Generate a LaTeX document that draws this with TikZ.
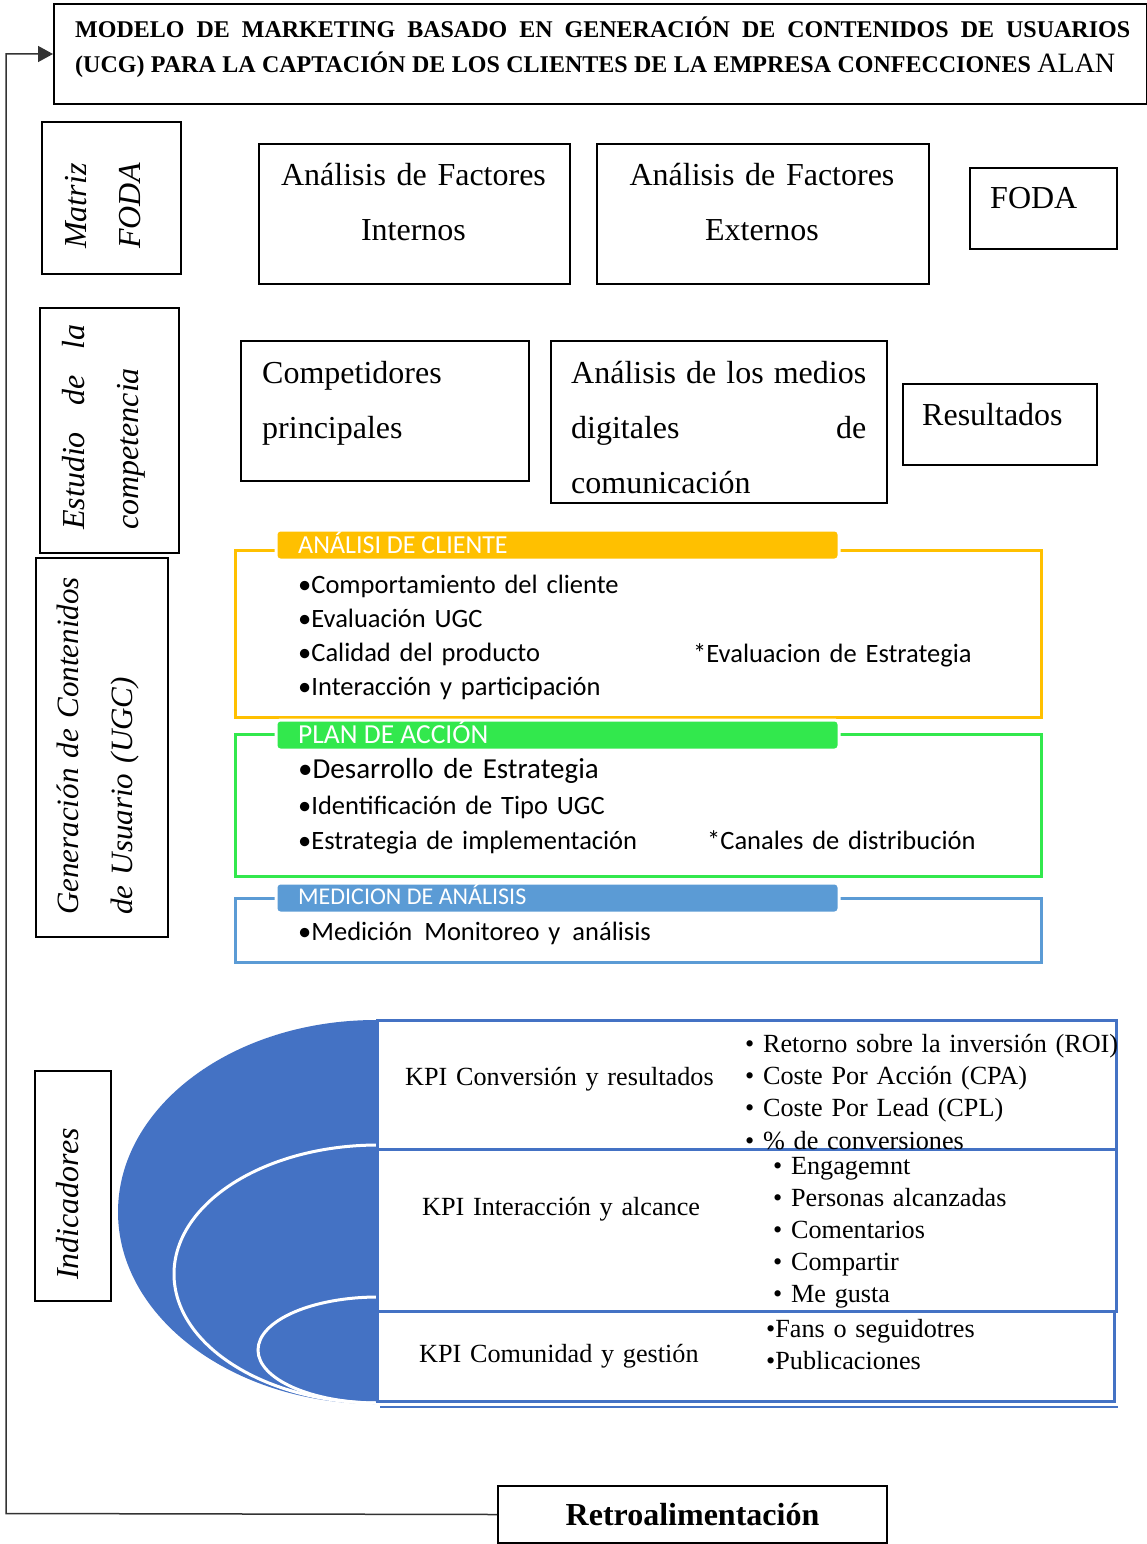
\documentclass[tikz,border=0pt]{standalone}
\usepackage{fontspec}
\setmainfont{Liberation Serif}
\newfontfamily\calibri{Carlito}
\usetikzlibrary{positioning,arrows.meta}

\definecolor{ucgyellow}{RGB}{255,192,0}
\definecolor{ucggreen}{RGB}{50,232,77}
\definecolor{ucgblue}{RGB}{91,155,213}
\definecolor{kpiblue}{RGB}{68,114,196}
\newcommand\fsz[2]{\fontsize{#1pt}{#2pt}\selectfont}

\begin{document}
\begin{tikzpicture}[x=1pt, y=-1pt, inner sep=0pt,
  plainbox/.style={draw, line width=2pt, anchor=north west},
  boxtext/.style={font=\fsz{32}{55}, anchor=base west},
  sidetext/.style={font=\fsz{32}{54}\itshape, rotate=90, anchor=base west},
  secframe/.style={draw=#1, line width=2.5pt, anchor=north west, minimum width=806pt},
  sectab/.style={fill=#1, draw=white, line width=3pt, rounded corners=4pt, anchor=north west, minimum width=563pt, minimum height=30pt},
  tabtext/.style={font=\calibri\fsz{26}{26}, text=white, anchor=base west},
  secitem/.style={font=\calibri\fsz{26.5}{34.3}, anchor=base west, align=left, text width=600pt},
  kpibox/.style={draw=kpiblue, fill=white, line width=3pt, anchor=north west},
  kpitext/.style={font=\fsz{26.2}{32.4}, anchor=base west, align=left, text width=420pt},
  fbline/.style={draw=black!80, line width=1.5pt}]
  \useasboundingbox (0,0) rectangle (1147,1544);

  % title
  \node[plainbox, minimum width=1093pt, minimum height=100pt] (titlebox) at (53,3) {};
  \node[anchor=base west, font=\fsz{24}{35}\bfseries] (titleA) at (75,38)
    {\makebox[1055pt][s]{MODELO DE MARKETING BASADO EN GENERACIÓN DE CONTENIDOS DE USUARIOS}};
  \node[anchor=base west, font=\fsz{24}{35}\bfseries] (titleB) at (75,73)
    {\makebox[1040pt][s]{(UCG) PARA LA CAPTACIÓN DE LOS CLIENTES DE LA EMPRESA CONFECCIONES {\mdseries\fsz{28}{28}ALAN}}};

  % side labels
  \node[plainbox, minimum width=139pt, minimum height=152pt] (matriz) at (41,121) {};
  \node[sidetext, anchor=base, text width=150pt, align=center] (matrizT) at (86,206) {Matriz\\FODA};
  \node[plainbox, minimum width=139pt, minimum height=245pt] (estudio) at (39,307) {};
  \node[sidetext, text width=205pt, align=left] (estudioT) at (84,530)
    {\makebox[205pt][l]{Estudio\hfill de\hfill la}\\competencia};
  \node[plainbox, minimum width=132pt, minimum height=379pt] (ugc) at (35,557) {};
  \node[sidetext, font=\fsz{31}{54}\itshape, text width=400pt, align=left] (ugcT) at (78,915)
    {Generación de Contenidos\\de Usuario (UGC)};
  \node[plainbox, minimum width=76pt, minimum height=230pt] (indic) at (34,1070) {};
  \node[sidetext, anchor=base] (indicT) at (78,1204) {Indicadores};

  % FODA row
  \node[plainbox, minimum width=311pt, minimum height=140pt] (internos) at (258,143) {};
  \node[boxtext, anchor=base, text width=311pt, align=center] (internosT) at (413.5,185)
    {Análisis de Factores\\Internos};
  \node[plainbox, minimum width=332pt, minimum height=140pt] (externos) at (596,143) {};
  \node[boxtext, anchor=base, text width=332pt, align=center] (externosT) at (762,185)
    {Análisis de Factores\\Externos};
  \node[plainbox, minimum width=147pt, minimum height=81pt] (fodabox) at (969,167) {};
  \node[boxtext] (fodaT) at (990,208) {FODA};

  % competencia row
  \node[plainbox, minimum width=288pt, minimum height=140pt] (compet) at (240,340) {};
  \node[boxtext, text width=260pt, align=left] (competT) at (262,383) {Competidores\\principales};
  \node[plainbox, minimum width=336pt, minimum height=162pt] (medios) at (550,340) {};
  \node[boxtext, text width=295pt, align=left] (mediosT) at (571,383)
    {\makebox[295pt][l]{Análisis\hfill de\hfill los\hfill medios}\\\makebox[295pt][l]{digitales\hfill de}\\comunicación};
  \node[plainbox, minimum width=194pt, minimum height=81pt] (result) at (902,383) {};
  \node[boxtext] (resultT) at (922,425) {Resultados};

  % UGC sections
  \node[secframe=ucgyellow, minimum height=167pt] (cliente) at (234,549) {};
  \node[sectab=ucgyellow] (clienteTab) at (274.5,528.5) {};
  \node[tabtext] (clienteTit) at (298,553) {ANÁLISI DE CLIENTE};
  \node[secitem] (clienteL) at (298,593)
    {•Comportamiento del cliente\\•Evaluación UGC\\•Calidad del producto\\•Interacción y participación};
  \node[secitem, text width=350pt] (clienteE) at (693,662) {*Evaluacion de Estrategia};

  \node[secframe=ucggreen, minimum height=142pt] (plan) at (234,733) {};
  \node[sectab=ucggreen] (planTab) at (274.5,718.5) {};
  \node[tabtext, font=\calibri\fsz{27.5}{28}] (planTit) at (298,743) {PLAN DE ACCIÓN};
  \node[secitem, font=\calibri\fsz{29}{35}] (planA) at (298,778) {•Desarrollo de Estrategia};
  \node[secitem, font=\calibri\fsz{26.5}{35}] (planL) at (298,814)
    {•Identificación de Tipo UGC\\•Estrategia de implementación};
  \node[secitem, text width=350pt] (planE) at (707,849) {*Canales de distribución};

  \node[secframe=ucgblue, minimum height=64pt] (medic) at (234,897) {};
  \node[sectab=ucgblue] (medicTab) at (274.5,881.5) {};
  \node[tabtext, font=\calibri\fsz{24}{24}] (medicTit) at (298,904) {MEDICION DE ANÁLISIS};
  \node[secitem] (medicL) at (298,940) {•Medición\hspace{12pt}Monitoreo y\hspace{12pt}análisis};

  % KPI
  \fill[kpiblue] (376,1020) arc[start angle=270, end angle=90, x radius=258, y radius=192] -- cycle;
  \draw[white, line width=3pt] (378,1145) arc[start angle=270, end angle=90, x radius=204, y radius=129];
  \draw[white, line width=3pt] (378,1297) arc[start angle=270, end angle=90, x radius=120, y radius=53];
  \node[kpibox, minimum width=739pt, minimum height=129pt] (kpiA) at (376,1019) {};
  \node[kpibox, minimum width=739pt, minimum height=162pt] (kpiB) at (376,1148) {};
  \node[kpibox, minimum width=737pt, minimum height=90pt] (kpiC) at (376,1310) {};
  \draw[kpiblue, line width=1.5pt] ([shift={(4,4)}]kpiC.south west) -- ([shift={(2,4)}]kpiC.south east);

  \node[kpitext] (kpiAT) at (405,1085) {KPI Conversión y resultados};
  \node[kpitext] (kpiAL) at (745,1052)
    {• Retorno sobre la inversión (ROI)\\• Coste Por Acción (CPA)\\• Coste Por Lead (CPL)\\• \% de conversiones};
  \node[kpitext] (kpiBT) at (422,1215) {KPI Interacción y alcance};
  \node[kpitext, font=\fsz{26.2}{32}] (kpiBL) at (773,1174)
    {• Engagemnt\\• Personas alcanzadas\\• Comentarios\\• Compartir\\• Me gusta};
  \node[kpitext] (kpiCT) at (419,1362) {KPI Comunidad\ y gestión};
  \node[kpitext, font=\fsz{26.2}{32}] (kpiCL) at (766,1337) {•Fans o seguidotres\\•Publicaciones};

  % feedback
  \node[plainbox, minimum width=389pt, minimum height=57pt, font=\fsz{32}{32}\bfseries] (retro) at (497,1485) {Retroalimentación};
  \coordinate (fbturn) at (6,1513.5);
  \draw[fbline, -{Triangle[length=15pt,width=16pt]}] (retro.west) -- (fbturn) |- (titlebox.west);
\end{tikzpicture}
\end{document}
